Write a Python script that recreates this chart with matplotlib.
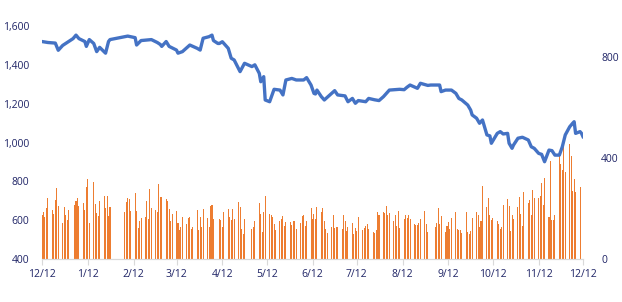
import pandas as pd
import matplotlib
matplotlib.use('Agg')
import matplotlib.pyplot as plt
from matplotlib.ticker import FuncFormatter

# price line (left axis)
price_dates = [
    '2011-12-12', '2011-12-16', '2011-12-21', '2011-12-23', '2011-12-26', '2011-12-29',
    '2012-01-02', '2012-01-04', '2012-01-06', '2012-01-10', '2012-01-11', '2012-01-13',
    '2012-01-16', '2012-01-18', '2012-01-20', '2012-01-24', '2012-01-26', '2012-01-27',
    '2012-02-08', '2012-02-13', '2012-02-14', '2012-02-17', '2012-02-24', '2012-02-28',
    '2012-03-01', '2012-03-02', '2012-03-05', '2012-03-07', '2012-03-12', '2012-03-13',
    '2012-03-16', '2012-03-21', '2012-03-26', '2012-03-28', '2012-03-30', '2012-04-03',
    '2012-04-05', '2012-04-06', '2012-04-09', '2012-04-10', '2012-04-12', '2012-04-16',
    '2012-04-18', '2012-04-20', '2012-04-24', '2012-04-27', '2012-05-02', '2012-05-04',
    '2012-05-07', '2012-05-08', '2012-05-10', '2012-05-11', '2012-05-14', '2012-05-17',
    '2012-05-21', '2012-05-23', '2012-05-25', '2012-05-29', '2012-06-01', '2012-06-06',
    '2012-06-08', '2012-06-11', '2012-06-13', '2012-06-14', '2012-06-15', '2012-06-18',
    '2012-06-20', '2012-06-22', '2012-06-27', '2012-06-29', '2012-07-04', '2012-07-06',
    '2012-07-09', '2012-07-11', '2012-07-13', '2012-07-18', '2012-07-20', '2012-07-24',
    '2012-07-27', '2012-07-30', '2012-08-02', '2012-08-03', '2012-08-10', '2012-08-13',
    '2012-08-15', '2012-08-17', '2012-08-22', '2012-08-24', '2012-08-29', '2012-08-31',
    '2012-09-06', '2012-09-07', '2012-09-10', '2012-09-14', '2012-09-17', '2012-09-19',
    '2012-09-21', '2012-09-25', '2012-09-27', '2012-09-28', '2012-10-01', '2012-10-03',
    '2012-10-05', '2012-10-08', '2012-10-10', '2012-10-11', '2012-10-15', '2012-10-17',
    '2012-10-19', '2012-10-22', '2012-10-23', '2012-10-25', '2012-10-26', '2012-10-29',
    '2012-11-01', '2012-11-05', '2012-11-07', '2012-11-09', '2012-11-12', '2012-11-14',
    '2012-11-16', '2012-11-19', '2012-11-21', '2012-11-23', '2012-11-26', '2012-11-28',
    '2012-11-30', '2012-12-03', '2012-12-05', '2012-12-06', '2012-12-07', '2012-12-10',
    '2012-12-11', '2012-12-12',
]
price = [
    1520, 1515, 1512, 1475, 1500, 1515,
    1535, 1553, 1535, 1520, 1495, 1530,
    1510, 1468, 1490, 1460, 1520, 1530,
    1548, 1540, 1502, 1525, 1530, 1515,
    1505, 1495, 1520, 1495, 1476, 1460,
    1468, 1502, 1485, 1476, 1537, 1545,
    1553, 1525, 1510, 1510, 1519, 1485,
    1434, 1425, 1365, 1408, 1391, 1400,
    1356, 1313, 1339, 1219, 1210, 1274,
    1270, 1245, 1322, 1330, 1322, 1322,
    1334, 1296, 1253, 1250, 1270, 1236,
    1219, 1233, 1267, 1245, 1240, 1210,
    1227, 1202, 1216, 1210, 1227, 1220,
    1216, 1236, 1262, 1270, 1274, 1272,
    1285, 1296, 1279, 1305, 1294, 1296,
    1296, 1262, 1270, 1270, 1253, 1227,
    1219, 1193, 1167, 1142, 1125, 1099,
    1116, 1039, 1034, 996, 1047, 1056,
    1044, 1047, 996, 970, 987, 1022,
    1027, 1013, 978, 970, 944, 939,
    901, 961, 958, 935, 935, 978,
    1039, 1081, 1099, 1107, 1047, 1056,
    1047, 1030,
]

# daily volume (right axis), one value per trading day
no_trading = ['2012-01-02', '2012-01-30', '2012-01-31', '2012-02-01', '2012-02-02',
              '2012-02-03', '2012-04-09', '2012-04-30', '2012-05-01', '2012-08-30',
              '2012-08-31']
volume = [
    174, 186, 166, 202, 242,  194, 178, 234, 281, 210,  143, 206, 174, 154, 194,
    214, 230, 242, 210,  222, 194, 285, 317, 143,  305, 218, 182, 170, 230,
    250, 202, 250, 170, 206,
    186, 226, 242, 236, 191,  261, 190, 123, 150, 162,  166, 230, 158, 277, 202,
    194, 186, 297, 246, 246,  238, 230, 198, 150, 178,  190, 143, 115, 127, 166,
    139, 162, 166, 119, 127,  194, 115, 166, 127, 198,  162, 127, 210, 214, 158,
    158, 154, 127, 186,  198, 166, 154, 198, 158,  226, 206, 119, 99, 158,
    119, 127, 150,  222, 178, 107, 186, 250,  178, 174, 166, 139, 115,
    150, 158, 170, 131, 147,  147, 135, 150, 150, 119,  143, 170, 174, 131, 150,
    202, 158, 178, 158, 206,  186, 202, 150, 119, 103,  127, 174, 123, 127, 127,
    119, 174, 150, 111, 127,  143, 99, 123, 111, 166,  115, 123, 131, 139, 119,
    107, 103, 115, 186, 174,  186, 182, 210, 174, 182,  150, 174, 131, 190, 123,
    158, 174, 162, 174, 158,  139, 135, 135, 143, 158,  190, 139, 107,
    127, 143, 202, 139, 170,  107, 131, 147, 119, 162,  186, 119, 115, 115, 103,
    186, 107, 99, 111, 162,  186, 174, 127, 150, 289,  206, 242, 174, 154, 162,
    150, 139, 119, 127, 214,  238, 210, 111, 174, 158,  206, 246, 178, 131, 265,
    222, 234, 174, 273, 242,  242, 250, 301, 214, 321,  166, 388, 154, 154, 174,
    416, 376, 352, 444, 344,  455, 408, 269, 317, 265,  285,
]

tick_dates = ['2011-12-12', '2012-01-12', '2012-02-12', '2012-03-12', '2012-04-12',
              '2012-05-12', '2012-06-12', '2012-07-12', '2012-08-12', '2012-09-12',
              '2012-10-12', '2012-11-12', '2012-12-12']
tick_labels = ['12/12', '1/12', '2/12', '3/12', '4/12', '5/12', '6/12',
               '7/12', '8/12', '9/12', '10/12', '11/12', '12/12']

vol_dates = pd.bdate_range('2011-12-12', '2012-12-10')
vol_dates = vol_dates[~vol_dates.isin(pd.to_datetime(no_trading))]

text_color = '#1f2466'
plt.rcParams['font.family'] = ['Open Sans', 'DejaVu Sans']
plt.rcParams['font.size'] = 7.5

fig = plt.figure(figsize=(6.22, 3.02), dpi=100)
ax1 = fig.add_axes([42 / 622, 43 / 302, 541 / 622, 233 / 302])
ax2 = ax1.twinx()

ax2.bar(vol_dates, volume, width=0.7, color='#ED7D31', linewidth=0,
        antialiased=False)
ax1.plot(pd.to_datetime(price_dates), price, color='#4472C4', linewidth=2.4,
         solid_joinstyle='round')

# line above the bars
ax1.set_zorder(ax2.get_zorder() + 1)
ax1.patch.set_visible(False)

ax1.set_xlim(pd.Timestamp('2011-12-12'), pd.Timestamp('2012-12-12'))
ax1.set_ylim(400, 1600)
ax1.set_yticks(range(400, 1601, 200))
ax1.yaxis.set_major_formatter(FuncFormatter(lambda v, p: f'{int(v):,}'))
ax2.set_ylim(0, 923)
ax2.set_yticks([0, 400, 800])

ax1.set_xticks(pd.to_datetime(tick_dates))
ax1.set_xticklabels(tick_labels)

for ax in (ax1, ax2):
    for s in ('top', 'left', 'right'):
        ax.spines[s].set_visible(False)
    ax.spines['bottom'].set_color('#d9d9d9')
    ax.tick_params(axis='y', length=0, colors=text_color)
ax1.tick_params(axis='y', pad=9)
ax2.tick_params(axis='y', pad=13)
ax1.tick_params(axis='x', length=4, color='#d9d9d9', labelcolor=text_color, pad=3)

fig.savefig('out.png', dpi=100)
